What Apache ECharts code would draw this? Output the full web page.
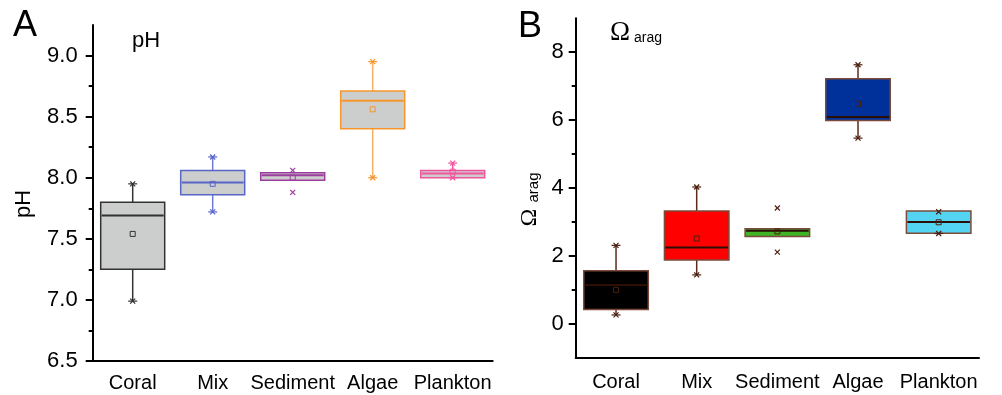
<!DOCTYPE html>
<html>
<head>
<meta charset="utf-8">
<script src="https://cdn.jsdelivr.net/npm/echarts@6/dist/echarts.min.js"></script>
<style>
  html, body { margin: 0; padding: 0; background: #fff; }
  #chart { width: 1002px; height: 395px; }
</style>
</head>
<body>
<div id="chart"></div>
<script>
const categories = ['Coral', 'Mix', 'Sediment', 'Algae', 'Plankton'];

// pH: [whisker low, Q1, median, Q3, whisker high]
const phBox = [
  [6.99, 7.25, 7.69, 7.80, 7.95],
  [7.72, 7.86, 7.96, 8.06, 8.17],
  [7.98, 7.98, 8.02, 8.04, 8.04],
  [8.00, 8.40, 8.63, 8.71, 8.95],
  [8.00, 8.00, 8.035, 8.06, 8.12],
];
const phMean = [7.54, 7.95, 8.00, 8.56, 8.05];
const phMin = [6.99, 7.72, 7.88, 8.00, 8.00];
const phMax = [7.95, 8.17, 8.06, 8.95, 8.12];
const phTicks = [6.5, 7.0, 7.5, 8.0, 8.5, 9.0];
const phMinorTicks = [6.75, 7.25, 7.75, 8.25, 8.75];

// Omega aragonite
const omBox = [
  [0.26, 0.42, 1.14, 1.56, 2.31],
  [1.44, 1.88, 2.25, 3.32, 4.03],
  [2.57, 2.57, 2.74, 2.80, 2.80],
  [5.47, 5.99, 6.09, 7.22, 7.63],
  [2.67, 2.67, 3.00, 3.32, 3.32],
];
const omMean = [1.0, 2.51, 2.72, 6.48, 2.99];
const omMin = [0.26, 1.44, 2.11, 5.47, 2.66];
const omMax = [2.31, 4.03, 3.41, 7.63, 3.30];
const omTicks = [0, 2, 4, 6, 8];
const omMinorTicks = [1, 3, 5, 7];

const FONT = 'Liberation Sans, Arial, sans-serif';
const SERIF = 'Liberation Serif, Times New Roman, serif';

const pick = (c, i) => (Array.isArray(c) ? c[i] : c);

function toRows(box, mean, mn, mx) {
  return categories.map((c, i) => [i, ...box[i], mean[i], mn[i], mx[i]]);
}

function makeRenderer(st) {
  return function (params, api) {
    const i = params.dataIndex;
    const x = api.value(0);
    const at = (dim) => api.coord([x, api.value(dim)]);
    const cx = at(1)[0];
    const yLo = at(1)[1], yQ1 = at(2)[1], yMed = at(3)[1], yQ3 = at(4)[1], yHi = at(5)[1];
    const yMean = at(6)[1], yMin = at(7)[1], yMax = at(8)[1];
    const bw = api.size([1, 0])[0] * 0.8;
    const stroke = pick(st.stroke, i);
    const whisker = pick(st.whisker, i);
    const mark = pick(st.mark, i);
    const line = (x1, y1, x2, y2, color, w) => ({
      type: 'line',
      shape: { x1, y1, x2, y2 },
      style: { stroke: color, lineWidth: w },
    });
    const children = [];
    if (yLo - yQ1 > 0.5) children.push(line(cx, yQ1, cx, yLo, whisker, 1.5));
    if (yQ3 - yHi > 0.5) children.push(line(cx, yHi, cx, yQ3, whisker, 1.5));
    children.push({
      type: 'rect',
      shape: { x: cx - bw / 2, y: yQ3, width: bw, height: yQ1 - yQ3 },
      style: { fill: pick(st.fill, i), stroke, lineWidth: 1.5 },
    });
    children.push(line(cx - bw / 2 + 1, yMed, cx + bw / 2 - 1, yMed, pick(st.median, i), 2));
    children.push({
      type: 'rect',
      shape: { x: cx - 2.5, y: yMean - 2.5, width: 5, height: 5 },
      style: { fill: 'none', stroke: mark, lineWidth: 1 },
    });
    // min / max markers (asterisk at whisker end, cross otherwise)
    [[yMin, yLo], [yMax, yHi]].forEach(([ym, yw]) => {
      const r = 2.5;
      children.push(line(cx - r, ym - r, cx + r, ym + r, mark, 1.2));
      children.push(line(cx - r, ym + r, cx + r, ym - r, mark, 1.2));
      if (Math.abs(ym - yw) < 0.5) children.push(line(cx - 4.5, ym, cx + 4.5, ym, mark, 1.2));
    });
    return { type: 'group', children };
  };
}

function catAxis(grid, margin) {
  return {
    type: 'category',
    gridIndex: grid,
    data: categories,
    axisLine: { onZero: false, lineStyle: { color: '#000', width: 2 } },
    axisTick: { alignWithLabel: true, length: 7, lineStyle: { color: '#000', width: 2 } },
    axisLabel: { interval: 0, color: '#000', fontSize: 20, fontFamily: FONT, margin },
    splitLine: { show: false },
  };
}

function valAxes(grid, min, max, ticks, minor, margin, fmt) {
  return [
    {
      type: 'value',
      gridIndex: grid,
      position: 'left',
      min, max,
      axisLine: { show: true, onZero: false, lineStyle: { color: '#000', width: 2 } },
      axisTick: { show: true, length: 7, customValues: ticks, lineStyle: { color: '#000', width: 2 } },
      axisLabel: { color: '#000', fontSize: 22, fontFamily: FONT, margin, customValues: ticks, formatter: fmt },
      splitLine: { show: false },
    },
    {
      type: 'value',
      gridIndex: grid,
      position: 'left',
      offset: 0,
      min, max,
      axisLine: { show: false, onZero: false },
      axisTick: { show: true, length: 4, customValues: minor, lineStyle: { color: '#000', width: 2 } },
      axisLabel: { show: false },
      splitLine: { show: false },
    },
  ];
}

const chart = echarts.init(document.getElementById('chart'));

chart.setOption({
  animation: false,
  backgroundColor: '#fff',
  grid: [
    { left: 92.7, top: 25, width: 400, height: 336, containLabel: false, outerBoundsMode: 'none' },
    { left: 575.7, top: 18.3, width: 403.3, height: 339.4, containLabel: false, outerBoundsMode: 'none' },
  ],
  xAxis: [catAxis(0, 12), catAxis(1, 15)],
  yAxis: [
    ...valAxes(0, 6.5, 9.25, phTicks, phMinorTicks, 15, (v) => v.toFixed(1)),
    ...valAxes(1, -1, 9, omTicks, omMinorTicks, 12, (v) => String(v)),
  ],
  series: [
    {
      type: 'custom',
      name: 'pH',
      xAxisIndex: 0,
      yAxisIndex: 0,
      data: toRows(phBox, phMean, phMin, phMax),
      encode: { x: 0, y: [1, 2, 3, 4, 5, 6, 7, 8] },
      renderItem: makeRenderer({
        fill: '#cccdcd',
        stroke: ['#333333', '#5866c8', '#9a3d9e', '#f7962e', '#f0559e'],
        whisker: ['#333333', '#6f7cd6', '#9a3d9e', '#f9b062', '#f0559e'],
        median: ['#333333', '#5866c8', '#9a3d9e', '#f7962e', '#f0559e'],
        mark: ['#333333', '#5866c8', '#9a3d9e', '#f7962e', '#f0559e'],
      }),
    },
    {
      type: 'custom',
      name: 'Omega',
      xAxisIndex: 1,
      yAxisIndex: 2,
      data: toRows(omBox, omMean, omMin, omMax),
      encode: { x: 0, y: [1, 2, 3, 4, 5, 6, 7, 8] },
      renderItem: makeRenderer({
        fill: ['#000000', '#ff0000', '#3fb426', '#00309a', '#52d4f2'],
        stroke: '#7b4a3a',
        whisker: '#5b2b1b',
        median: '#2b0f05',
        mark: '#4b1f10',
      }),
    },
  ],
  graphic: [
    { type: 'text', x: 13, y: 26.5, style: { text: 'A', font: '36px ' + FONT, fill: '#000', verticalAlign: 'middle' } },
    { type: 'text', x: 132, y: 41.3, style: { text: 'pH', font: '22px ' + FONT, fill: '#000', verticalAlign: 'middle' } },
    { type: 'text', x: 24, y: 204, rotation: Math.PI / 2, style: { text: 'pH', font: '22px ' + FONT, fill: '#000', align: 'center', verticalAlign: 'middle' } },
    { type: 'text', x: 518, y: 26.7, style: { text: 'B', font: '36px ' + FONT, fill: '#000', verticalAlign: 'middle' } },
    { type: 'text', x: 610, y: 33, style: { text: 'Ω', font: '27px ' + SERIF, fill: '#000', verticalAlign: 'middle' } },
    { type: 'text', x: 634, y: 38, style: { text: 'arag', font: '14px ' + FONT, fill: '#000', verticalAlign: 'middle' } },
    { type: 'text', x: 530, y: 217.5, rotation: Math.PI / 2, style: { text: 'Ω', font: '24px ' + SERIF, fill: '#000', align: 'center', verticalAlign: 'middle' } },
    { type: 'text', x: 533.5, y: 187.5, rotation: Math.PI / 2, style: { text: 'arag', font: '15px ' + FONT, fill: '#000', align: 'center', verticalAlign: 'middle' } },
  ],
});
</script>
</body>
</html>
